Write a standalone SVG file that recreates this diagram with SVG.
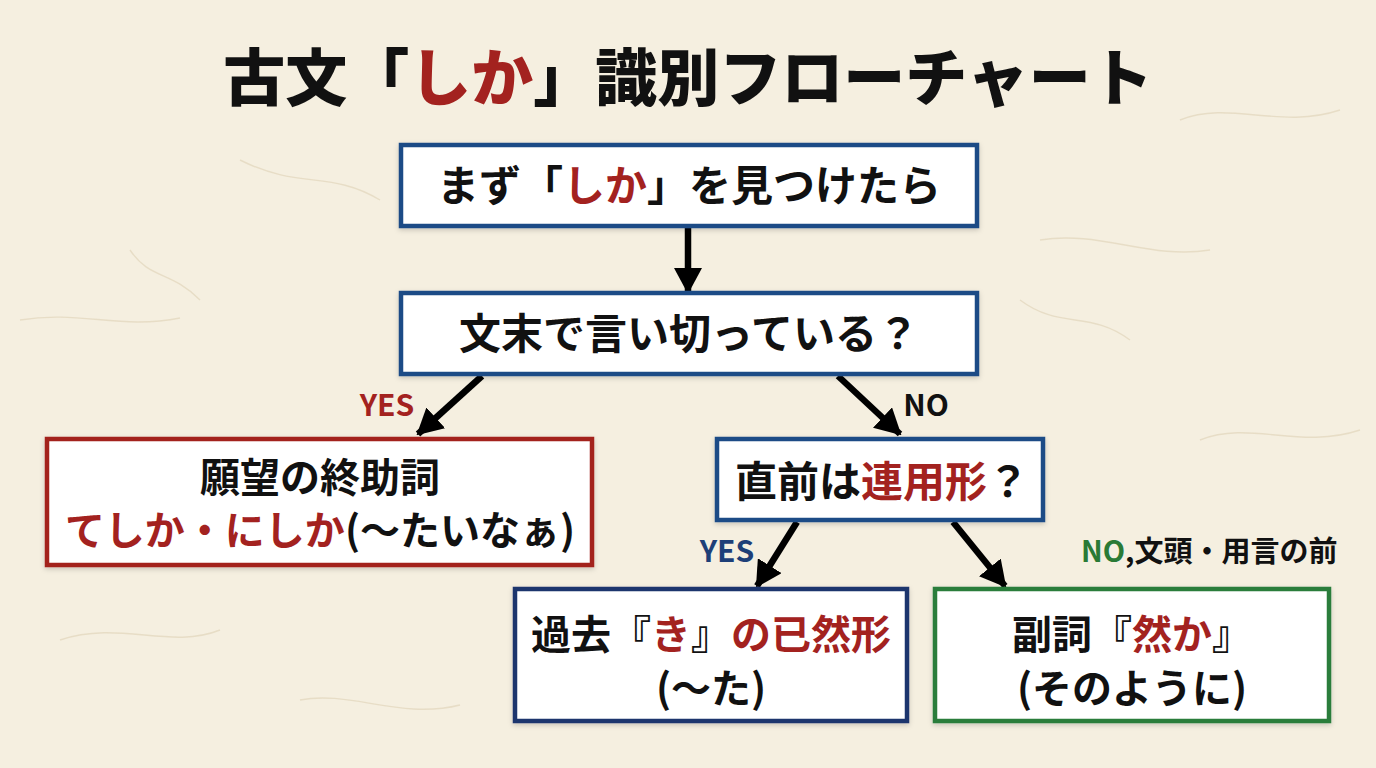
<svg xmlns="http://www.w3.org/2000/svg" width="1376" height="768" viewBox="0 0 1376 768">
<style>
text{font-family:"Noto Sans CJK JP","Noto Sans CJK SC",sans-serif;font-weight:700;fill:#111;text-anchor:middle}
.title{font-size:62px;font-weight:900}
.bt{font-size:42px}
.bt2{font-size:40px}
.lbl{font-size:30px}
.r{fill:#a3221f}
.b{fill:#1e3f78}
.g{fill:#2a7a35}
.box{fill:#fff;stroke-width:4.5}
.blue{stroke:#1f4c86}
.navy{stroke:#1b356d}
.red{stroke:#a3221f}
.green{stroke:#2a7d3a}
.con{stroke:#000;stroke-width:6.5;fill:none;marker-end:url(#ah)}
.fib{stroke:#e3d8bf;stroke-width:1.4;fill:none;opacity:.8}
</style>
<defs>
<marker id="ah" viewBox="0 0 26 28" refX="24" refY="14" markerWidth="26" markerHeight="28" markerUnits="userSpaceOnUse" orient="auto">
<path d="M0,0 L26,14 L0,28 z" fill="#000"/>
</marker>
<filter id="sh" x="-5%" y="-10%" width="110%" height="125%">
<feDropShadow dx="0" dy="2" stdDeviation="2.5" flood-color="#000" flood-opacity="0.18"/>
</filter>
</defs>
<rect width="1376" height="768" fill="#f5efe0"/>
<g id="texture">
<path class="fib" d="M20 320 C80 310 120 330 180 318"/>
<path class="fib" d="M240 160 C300 190 330 170 380 200"/>
<path class="fib" d="M1040 240 C1100 230 1150 260 1210 250"/>
<path class="fib" d="M1180 120 C1230 100 1280 130 1340 110"/>
<path class="fib" d="M60 640 C120 620 170 650 220 630"/>
<path class="fib" d="M1200 440 C1250 420 1300 450 1360 430"/>
<path class="fib" d="M300 700 C350 690 400 720 460 705"/>
<path class="fib" d="M1020 300 C1060 330 1090 310 1130 340"/>
<path class="fib" d="M130 250 C150 280 170 270 200 300"/>
</g>
<g id="title">
<text class="title" x="688" y="101">古文「<tspan class="r">しか</tspan>」識別フローチャート</text>
</g>
<g id="connectors">
<line class="con" x1="688" y1="228" x2="688" y2="292"/>
<line class="con" x1="482" y1="376" x2="418" y2="434"/>
<line class="con" x1="838" y1="376" x2="900" y2="434"/>
<line class="con" x1="797" y1="522" x2="757" y2="586"/>
<line class="con" x1="953" y1="522" x2="1005" y2="586"/>
<text class="lbl r" x="387" y="416">YES</text>
<text class="lbl" x="926" y="416">NO</text>
<text class="lbl b" x="727" y="562">YES</text>
<text class="lbl" x="1081" y="562" style="text-anchor:start;font-size:29px"><tspan class="g">NO</tspan>,文頭・用言の前</text>
</g>
<g id="n1">
<rect class="box blue" x="401" y="145" width="576" height="81" filter="url(#sh)"/>
<text class="bt" x="689" y="201">まず「<tspan class="r">しか</tspan>」を見つけたら</text>
</g>
<g id="n2">
<rect class="box blue" x="401" y="293" width="576" height="81" filter="url(#sh)"/>
<text class="bt" x="689" y="349">文末で言い切っている？</text>
</g>
<g id="n3">
<rect class="box red" x="47" y="439" width="545" height="126" filter="url(#sh)"/>
<text class="bt2" x="320" y="492">願望の終助詞</text>
<text class="bt2" x="320" y="545"><tspan class="r">てしか・にしか</tspan>(〜たいなぁ)</text>
</g>
<g id="n4">
<rect class="box blue" x="717" y="439" width="326" height="81" filter="url(#sh)"/>
<text class="bt" x="882" y="497">直前は<tspan class="r">連用形</tspan>？</text>
</g>
<g id="n5">
<rect class="box navy" x="515" y="589" width="392" height="132" filter="url(#sh)"/>
<text class="bt2" x="711" y="649">過去『<tspan class="r">き</tspan>』<tspan class="r">の已然形</tspan></text>
<text class="bt2" x="711" y="703">(〜た)</text>
</g>
<g id="n6">
<rect class="box green" x="935" y="589" width="394" height="132" filter="url(#sh)"/>
<text class="bt2" x="1132" y="649">副詞『<tspan class="r">然か</tspan>』</text>
<text class="bt2" x="1132" y="703">(そのように)</text>
</g>
</svg>
